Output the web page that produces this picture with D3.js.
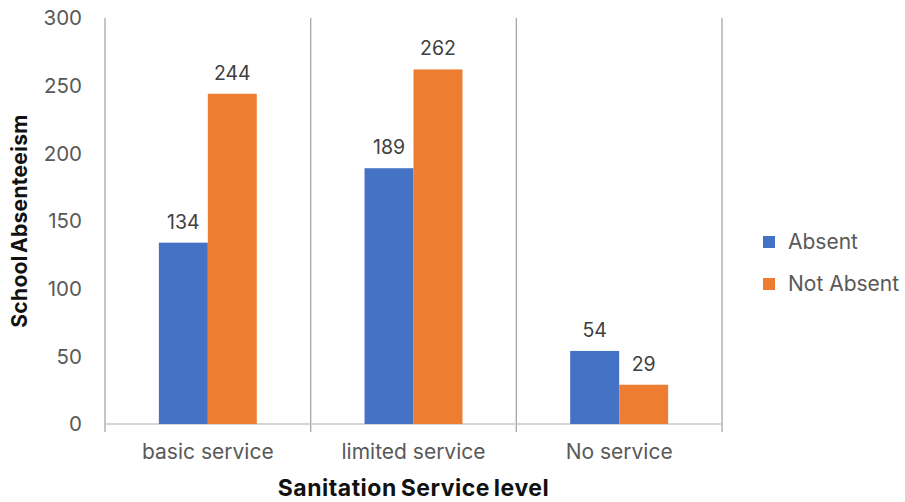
<!DOCTYPE html>
<html>
<head>
<meta charset="utf-8">
<script src="https://cdn.jsdelivr.net/npm/d3@7"></script>
<style>
  body { margin: 0; background: #fff; }
  text { font-family: Inter, "Open Sans", sans-serif; }
</style>
</head>
<body>
<div id="chart"></div>
<script>
var categories = ["basic service", "limited service", "No service"];
var seriesNames = ["Absent", "Not Absent"];
var absentValues = [134, 189, 54];
var notAbsentValues = [244, 262, 29];
var yTicks = [0, 50, 100, 150, 200, 250, 300];
var colors = ["#4472c4", "#ed7d31"];

var margin = { top: 18, right: 183, bottom: 78, left: 105 },
    width = 905 - margin.left - margin.right,
    height = 502 - margin.top - margin.bottom;

var svg = d3.select("#chart")
    .append("svg")
    .attr("width", 905)
    .attr("height", 502)
    .append("g")
    .attr("transform", "translate(" + margin.left + "," + margin.top + ")");

var x = d3.scaleBand()
    .domain(categories)
    .range([0, width])
    .paddingInner(0)
    .paddingOuter(0);

var xInner = d3.scaleBand()
    .domain(seriesNames)
    .range([0, x.bandwidth()])
    .paddingOuter(1.1);

var y = d3.scaleLinear()
    .domain([0, 300])
    .range([height, 0]);

var rows = categories.map(function (c, i) {
    return { cat: c, values: [absentValues[i], notAbsentValues[i]] };
});

// vertical separators
var seps = [0].concat(categories.map(function (c) { return x(c) + x.bandwidth(); }));
svg.selectAll("line.sep")
    .data(seps)
    .enter()
    .append("line")
    .attr("class", "sep")
    .attr("x1", function (d) { return d; })
    .attr("x2", function (d) { return d; })
    .attr("y1", 0)
    .attr("y2", height + 8)
    .style("stroke", "#a6a6a6")
    .style("stroke-width", 1.3);

// baseline
svg.append("line")
    .attr("x1", 0)
    .attr("x2", width)
    .attr("y1", y(0))
    .attr("y2", y(0))
    .style("stroke", "#c8c8c8")
    .style("stroke-width", 1.3);

// y tick labels
svg.selectAll("text.ytick")
    .data(yTicks)
    .enter()
    .append("text")
    .attr("class", "ytick")
    .attr("x", -23)
    .attr("y", function (d) { return y(d); })
    .attr("dy", "0.35em")
    .attr("text-anchor", "end")
    .style("font-size", "20.5px")
    .style("fill", "#595959")
    .text(function (d) { return d; });

// bars
var groups = svg.selectAll("g.grp")
    .data(rows)
    .enter()
    .append("g")
    .attr("transform", function (d) { return "translate(" + x(d.cat) + ",0)"; });

groups.selectAll("rect")
    .data(function (d) { return d.values.map(function (v, i) { return { name: seriesNames[i], v: v, i: i }; }); })
    .enter()
    .append("rect")
    .attr("x", function (d) { return xInner(d.name); })
    .attr("width", xInner.bandwidth())
    .attr("y", function (d) { return y(d.v); })
    .attr("height", function (d) { return y(0) - y(d.v); })
    .style("fill", function (d) { return colors[d.i]; });

groups.selectAll("text.lbl")
    .data(function (d) { return d.values.map(function (v, i) { return { name: seriesNames[i], v: v }; }); })
    .enter()
    .append("text")
    .attr("class", "lbl")
    .attr("x", function (d) { return xInner(d.name) + xInner.bandwidth() / 2; })
    .attr("y", function (d) { return y(d.v) - 14; })
    .attr("text-anchor", "middle")
    .style("font-size", "19.5px")
    .style("fill", "#404040")
    .text(function (d) { return d.v; });

// category labels
svg.selectAll("text.xcat")
    .data(categories)
    .enter()
    .append("text")
    .attr("class", "xcat")
    .attr("x", function (d) { return x(d) + x.bandwidth() / 2; })
    .attr("y", height + 35)
    .attr("text-anchor", "middle")
    .style("font-size", "21px")
    .style("fill", "#595959")
    .text(function (d) { return d; });

// axis titles
svg.append("text")
    .attr("x", width / 2)
    .attr("y", height + 72)
    .attr("text-anchor", "middle")
    .style("font-size", "23px")
    .style("font-weight", "bold")
    .style("letter-spacing", "0.5px")
    .style("word-spacing", "-2px")
    .style("fill", "#111")
    .text("Sanitation Service level");

svg.append("text")
    .attr("transform", "translate(-78," + (height / 2) + ") rotate(-90)")
    .attr("text-anchor", "middle")
    .style("font-size", "21px")
    .style("font-weight", "bold")
    .style("letter-spacing", "0.3px")
    .style("word-spacing", "-3px")
    .style("fill", "#111")
    .text("School Absenteeism");

// legend
var legend = svg.selectAll("g.leg")
    .data(seriesNames)
    .enter()
    .append("g")
    .attr("transform", function (d, i) { return "translate(" + (width + 41) + "," + (224 + i * 42) + ")"; });

legend.append("rect")
    .attr("x", 0)
    .attr("y", -6)
    .attr("width", 12)
    .attr("height", 12)
    .style("fill", function (d, i) { return colors[i]; });

legend.append("text")
    .attr("x", 25)
    .attr("y", 0)
    .attr("dy", "0.35em")
    .style("font-size", "21px")
    .style("fill", "#595959")
    .text(function (d) { return d; });
</script>
</body>
</html>
